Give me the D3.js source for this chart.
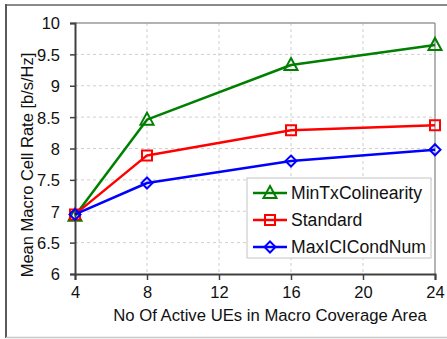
<!DOCTYPE html>
<html>
<head>
<meta charset="utf-8">
<script src="https://cdn.jsdelivr.net/npm/d3@7"></script>
<style>
  html, body { margin: 0; padding: 0; background: #fff; }
  svg { display: block; font-family: "Liberation Sans", Arial, sans-serif; }
</style>
</head>
<body>
<svg id="chart" width="447" height="339"></svg>
<script>
// Number of active UEs per macro coverage area
const users = [4, 8, 16, 24];
// Mean macro cell rate [b/s/Hz] for each scheduling scheme
const minTxColinearity = [6.93, 8.46, 9.33, 9.65];
const standard = [6.95, 7.89, 8.29, 8.37];
const maxICICondNum = [6.95, 7.45, 7.80, 7.98];

const xTicks = [4, 8, 12, 16, 20, 24];
const yTicks = [6, 6.5, 7, 7.5, 8, 8.5, 9, 9.5, 10];
const seriesNames = ["MinTxColinearity", "Standard", "MaxICICondNum"];

const series = [
  { name: seriesNames[0], values: minTxColinearity, color: "#007f00", marker: "triangle" },
  { name: seriesNames[1], values: standard, color: "#ff0000", marker: "square" },
  { name: seriesNames[2], values: maxICICondNum, color: "#0000ff", marker: "diamond" }
];

const svg = d3.select("#chart");
const plot = { left: 75, right: 435, top: 23, bottom: 274 };

const x = d3.scaleLinear().domain([4, 24]).range([plot.left, plot.right]);
const y = d3.scaleLinear().domain([6, 10]).range([plot.bottom, plot.top]);

// outer frame of the figure
svg.append("line").attr("x1", 6).attr("x2", 447).attr("y1", 5).attr("y2", 5)
  .attr("stroke", "#8a8a8a").attr("stroke-width", 2);
svg.append("line").attr("x1", 6).attr("x2", 6).attr("y1", 4).attr("y2", 338)
  .attr("stroke", "#5a5a5a").attr("stroke-width", 2);
svg.append("line").attr("x1", 6).attr("x2", 447).attr("y1", 337.5).attr("y2", 337.5)
  .attr("stroke", "#c8c8c8").attr("stroke-width", 1.5);

// dashed grid
const grid = svg.append("g").attr("stroke", "#cfcfcf").attr("stroke-width", 1)
  .attr("stroke-dasharray", "3,3");
grid.selectAll("line.h").data(yTicks.slice(1, -1)).join("line")
  .attr("x1", plot.left).attr("x2", plot.right)
  .attr("y1", d => y(d)).attr("y2", d => y(d));
grid.selectAll("line.v").data(xTicks.slice(1, -1)).join("line")
  .attr("y1", plot.top).attr("y2", plot.bottom)
  .attr("x1", d => x(d)).attr("x2", d => x(d));

// top and right box edges
svg.append("line").attr("x1", plot.left).attr("x2", plot.right).attr("y1", plot.top).attr("y2", plot.top)
  .attr("stroke", "#9a9a9a").attr("stroke-width", 1.5);
svg.append("line").attr("x1", plot.right).attr("x2", plot.right).attr("y1", plot.top).attr("y2", plot.bottom)
  .attr("stroke", "#9a9a9a").attr("stroke-width", 1.5);

// axes
const xAxis = d3.axisBottom(x).tickValues(xTicks).tickSize(6).tickPadding(6).tickFormat(d3.format("d"));
const yAxis = d3.axisLeft(y).tickValues(yTicks).tickSize(5).tickPadding(10).tickFormat(d => d3.format("")(d));

const gx = svg.append("g").attr("transform", `translate(0,${plot.bottom})`).call(xAxis);
const gy = svg.append("g").attr("transform", `translate(${plot.left},0)`).call(yAxis);
[gx, gy].forEach(g => {
  g.select(".domain").attr("stroke", "#404040").attr("stroke-width", 2);
  g.selectAll(".tick line").attr("stroke", "#404040").attr("stroke-width", 1.5);
  g.selectAll(".tick text").attr("fill", "#111").style("font-size", "16.5px")
    .style("font-family", "'Liberation Sans', Arial, sans-serif");
});
gy.selectAll(".tick text").attr("dy", "0.36em");

// axis titles
svg.append("text").attr("x", 270).attr("y", 321).attr("text-anchor", "middle")
  .style("font-size", "16.7px").attr("fill", "#111")
  .text("No Of Active UEs in Macro Coverage Area");
svg.append("text").attr("transform", "translate(33,165) rotate(-90)").attr("text-anchor", "middle")
  .style("font-size", "16.5px").attr("fill", "#111")
  .text("Mean Macro Cell Rate [b/s/Hz]");

// marker shapes
function markerPath(type) {
  if (type === "triangle") return "M0,-7 L6.5,5 L-6.5,5 Z";
  if (type === "square") return "M-5,-5 L5,-5 L5,5 L-5,5 Z";
  return "M0,-5.5 L5.5,0 L0,5.5 L-5.5,0 Z";
}

const line = d3.line().x((d, i) => x(users[i])).y(d => y(d));

series.forEach(s => {
  const g = svg.append("g");
  g.append("path").attr("d", line(s.values)).attr("fill", "none")
    .attr("stroke", s.color).attr("stroke-width", 2.5).attr("stroke-linejoin", "round");
  g.selectAll("path.m").data(s.values).join("path").attr("class", "m")
    .attr("d", markerPath(s.marker))
    .attr("transform", (d, i) => `translate(${x(users[i])},${y(d)})`)
    .attr("fill", "none").attr("stroke", s.color).attr("stroke-width", 2);
});

// legend
const legend = svg.append("g").attr("transform", "translate(247,178)");
legend.append("rect").attr("x", 0).attr("y", 0).attr("width", 184).attr("height", 80)
  .attr("fill", "#fff").attr("stroke", "#c4c4c4").attr("stroke-width", 1);
series.forEach((s, i) => {
  const cy = 15 + i * 27;
  legend.append("line").attr("x1", 6).attr("x2", 40).attr("y1", cy).attr("y2", cy)
    .attr("stroke", s.color).attr("stroke-width", 2.5);
  legend.append("path").attr("d", markerPath(s.marker))
    .attr("transform", `translate(23,${cy})`)
    .attr("fill", "none").attr("stroke", s.color).attr("stroke-width", 2);
  legend.append("text").attr("x", 44).attr("y", cy).attr("dy", "0.36em")
    .style("font-size", "17.6px").attr("fill", "#111").text(s.name);
});
</script>
</body>
</html>
